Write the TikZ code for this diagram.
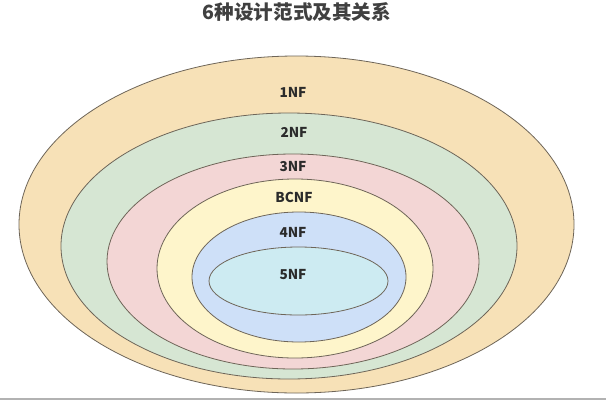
\documentclass[tikz,border=0pt]{standalone}
\usepackage{fontspec}
\newfontfamily\cjk{Noto Sans CJK SC}
\usetikzlibrary{shapes.geometric}
\definecolor{c1}{HTML}{F7E1B7}
\definecolor{c2}{HTML}{D6E6D3}
\definecolor{c3}{HTML}{F3D6D5}
\definecolor{c4}{HTML}{FEF5CB}
\definecolor{c5}{HTML}{CEE0F8}
\definecolor{c6}{HTML}{CDEBF2}
\definecolor{edge}{HTML}{6E6558}
\definecolor{txt}{HTML}{2B2B2B}
\begin{document}
\begin{tikzpicture}[x=0.75pt,y=-0.75pt,
  ring/.style={ellipse,draw=edge,line width=0.6pt,inner sep=0pt},
  lbl/.style={font=\cjk\bfseries\fontsize{10.2pt}{12pt}\selectfont,text=txt,inner sep=0pt}]
\useasboundingbox (0,0) rectangle (606,400);
\fill[white] (0,0) rectangle (606,400);
\fill[gray!60] (0,397.5) rectangle (606,400);
\node[ring,fill=c1,minimum width=555pt*0.75,minimum height=337pt*0.75] (e1) at (296.5,224.5) {};
\node[ring,fill=c2,minimum width=456pt*0.75,minimum height=266pt*0.75] (e2) at (289,246) {};
\node[ring,fill=c3,minimum width=372pt*0.75,minimum height=215pt*0.75] (e3) at (293,261.5) {};
\node[ring,fill=c4,minimum width=276pt*0.75,minimum height=179pt*0.75] (e4) at (295,268.5) {};
\node[ring,fill=c5,minimum width=214pt*0.75,minimum height=130pt*0.75] (e5) at (299,277) {};
\node[ring,fill=c6,minimum width=179pt*0.75,minimum height=68pt*0.75] (e6) at (298.5,281) {};
\node[lbl] (l1) at (293,92) {1NF};
\node[lbl] (l2) at (294,132) {2NF};
\node[lbl] (l3) at (293,167) {3NF};
\node[lbl] (l4) at (294,197) {BCNF};
\node[lbl] (l5) at (293,232) {4NF};
\node[lbl] (l6) at (293,274.5) {5NF};
\node[font=\cjk\bfseries\fontsize{14.7pt}{16pt}\selectfont,text=txt!90,inner sep=0pt] (title) at (297,12) {6种设计范式及其关系};
\end{tikzpicture}
\end{document}
